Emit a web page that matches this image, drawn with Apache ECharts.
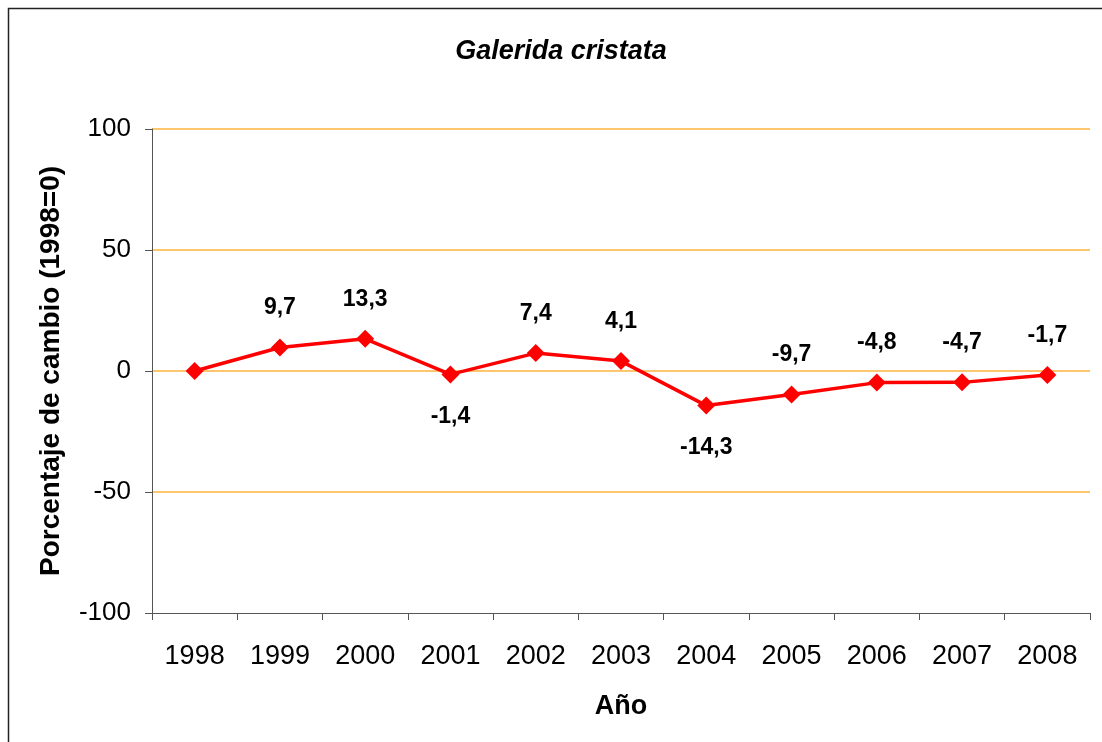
<!DOCTYPE html>
<html>
<head>
<meta charset="utf-8">
<script src="https://cdn.jsdelivr.net/npm/echarts@6/dist/echarts.min.js"></script>
<style>
  html, body { margin: 0; padding: 0; background: #fff; }
  #chart { width: 1102px; height: 742px; }
</style>
</head>
<body>
<div id="chart"></div>
<script>
const years = ["1998", "1999", "2000", "2001", "2002", "2003", "2004", "2005", "2006", "2007", "2008"];
const change = [0, 9.7, 13.3, -1.4, 7.4, 4.1, -14.3, -9.7, -4.8, -4.7, -1.7];
const yTicks = [-100, -50, 0, 50, 100];

// labels that Excel put below the point
const below = ["2001", "2004"];

const chart = echarts.init(document.getElementById("chart"));

const seriesData = change.map(function (v, i) {
  let item = { value: v };
  if (i === 0) {
    item.label = { show: false };
  } else if (below.indexOf(years[i]) >= 0) {
    item.label = { position: "bottom", distance: 22 };
  }
  return item;
});

chart.setOption({
  animation: false,
  graphic: [{
    type: "rect",
    shape: { x: 8.5, y: 8.5, width: 1200, height: 800 },
    style: { fill: "none", stroke: "#222", lineWidth: 1.5 },
    silent: true
  }],
  title: {
    text: "Galerida cristata",
    left: 556,
    textAlign: "center",
    top: 33,
    textStyle: {
      fontFamily: "Liberation Sans",
      fontStyle: "italic",
      fontWeight: "bold",
      fontSize: 27,
      color: "#000"
    }
  },
  grid: { left: 152, right: 12, top: 129, bottom: 129 },
  xAxis: {
    type: "category",
    data: years,
    boundaryGap: true,
    name: "Año",
    nameLocation: "middle",
    nameGap: 80,
    nameTextStyle: { fontFamily: "Liberation Sans", fontWeight: "bold", fontSize: 27, color: "#000" },
    axisLine: { onZero: false, lineStyle: { color: "#555", width: 1 } },
    axisTick: { show: true, alignWithLabel: false, length: 7, inside: false, lineStyle: { color: "#555" } },
    axisLabel: { fontFamily: "Liberation Sans", fontSize: 27, color: "#000", margin: 30 },
    splitLine: { show: false },
    z: 5
  },
  yAxis: {
    type: "value",
    min: yTicks[0],
    max: yTicks[yTicks.length - 1],
    interval: 50,
    name: "Porcentaje de cambio (1998=0)",
    nameLocation: "middle",
    nameGap: 87,
    nameTextStyle: { fontFamily: "Liberation Sans", fontWeight: "bold", fontSize: 28, color: "#000" },
    axisLine: { show: true, lineStyle: { color: "#555", width: 1 } },
    axisTick: { show: true, length: 7, lineStyle: { color: "#555" } },
    axisLabel: { fontFamily: "Liberation Sans", fontSize: 26, color: "#000", margin: 21 },
    splitLine: { show: true, showMinLine: false, lineStyle: { color: "#FFB43C", width: 1.5, opacity: 1 } }
  },
  series: [{
    type: "line",
    data: seriesData,
    symbol: "diamond",
    symbolSize: 18,
    lineStyle: { color: "#FF0000", width: 3.5 },
    itemStyle: { color: "#FF0000" },
    label: {
      show: true,
      position: "top",
      distance: 19,
      fontFamily: "Liberation Sans",
      fontWeight: "bold",
      fontSize: 23,
      color: "#000",
      formatter: function (p) {
        return String(p.value).replace(".", ",");
      }
    }
  }]
});
</script>
</body>
</html>
